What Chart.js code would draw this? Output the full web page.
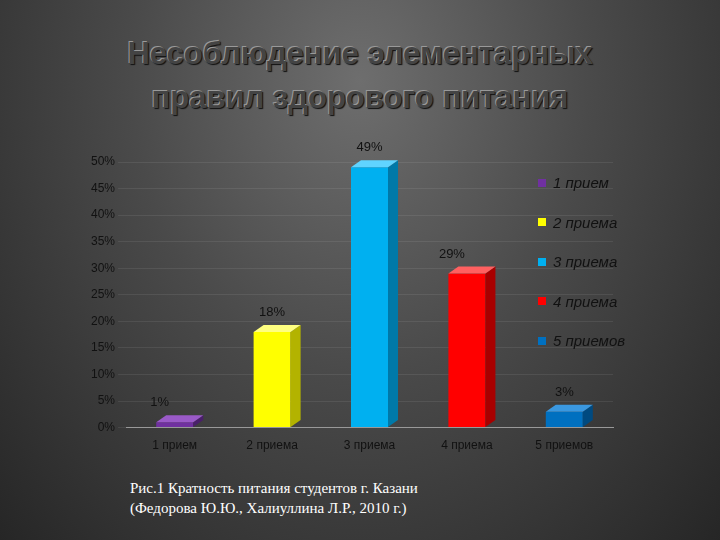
<!DOCTYPE html>
<html><head><meta charset="utf-8">
<script src="https://cdn.jsdelivr.net/npm/chart.js@4"></script>
<style>
body{margin:0;width:720px;height:540px;overflow:hidden;
 background:radial-gradient(ellipse at 50% 15%,#6e6e6e 0%,#4a4a4a 45%,#262626 100%);font-family:"Liberation Sans",Arial,sans-serif}
#title{position:absolute;top:32px;left:0;width:720px;text-align:center;font-weight:bold;font-size:31px;line-height:44px;
 color:#444;text-shadow:-1px -1px 0 #999,1px 1px 1px #111}
#wrap{position:absolute;left:88px;top:142px;width:545px;height:314px}
#legend{position:absolute;left:538px;top:163px;color:#111;font-size:15px;font-style:italic}
#legend div{height:39.5px;display:flex;align-items:center}
#legend span{display:inline-block;width:8px;height:8px;margin-right:7px}
#cap{position:absolute;left:130px;top:478px;color:#fff;font-family:"Liberation Serif",serif;font-size:15px;line-height:20px}
</style></head><body>
<div id="title">Несоблюдение элементарных<br>правил здорового питания</div>
<div id="wrap"><canvas id="c"></canvas></div>
<div id="legend"></div>
<div id="cap">Рис.1 Кратность питания студентов г. Казани<br>(Федорова Ю.Ю., Халиуллина Л.Р., 2010 г.)</div>
<script>
/* DATA */
const categories = ["1 прием","2 приема","3 приема","4 приема","5 приемов"];
const values = [0.01,0.18,0.49,0.29,0.03];
const valueLabels = ["1%","18%","49%","29%","3%"];
const colors = ["#7030a0","#ffff00","#00b0f0","#ff0000","#0070c0"];
const sideColors = ["#4a1f6b","#b3b300","#0079a8","#a80000","#004a80"];
const topColors = ["#9a5ac8","#ffff80","#60d4ff","#ff6060","#3a98e0"];

document.getElementById("legend").innerHTML = categories.map((c,i)=>
  `<div><span style="background:${colors[i]}"></span>${c}</div>`).join("");

/* 3D bars */
const bars3d = {
  id:"bars3d",
  afterDatasetsDraw(chart){
    const ctx = chart.ctx, dx = 10, dy = 7;
    chart.getDatasetMeta(0).data.forEach((b,i)=>{
      const l = b.x - b.width/2, r = b.x + b.width/2, t = b.y, btm = b.base;
      ctx.fillStyle = sideColors[i];
      ctx.beginPath();ctx.moveTo(r,t);ctx.lineTo(r+dx,t-dy);ctx.lineTo(r+dx,btm-dy);ctx.lineTo(r,btm);ctx.fill();
      ctx.fillStyle = topColors[i];
      ctx.beginPath();ctx.moveTo(l,t);ctx.lineTo(l+dx,t-dy);ctx.lineTo(r+dx,t-dy);ctx.lineTo(r,t);ctx.fill();
      ctx.fillStyle = "#111";ctx.font = "13px 'Liberation Sans'";ctx.textAlign = "center";
      ctx.fillText(valueLabels[i], b.x - (i==0||i==3?15:0), t - 16);
    });
  }
};

new Chart(document.getElementById("c"),{
  type:"bar",
  data:{labels:categories,datasets:[{data:values,backgroundColor:colors,barPercentage:0.38,categoryPercentage:1}]},
  options:{
    responsive:true,maintainAspectRatio:false,animation:false,
    layout:{padding:{top:20,right:20}},
    plugins:{legend:{display:false},tooltip:{enabled:false}},
    scales:{
      y:{min:0,max:0.5,ticks:{stepSize:0.05,color:"#111",font:{size:12},callback:v=>Math.round(v*100)+"%"},
         grid:{color:"rgba(255,255,255,0.08)"},border:{display:false}},
      x:{ticks:{color:"#111",font:{size:12}},grid:{display:false},border:{color:"#999"}}
    }
  },
  plugins:[bars3d]
});
</script>
</body></html>
